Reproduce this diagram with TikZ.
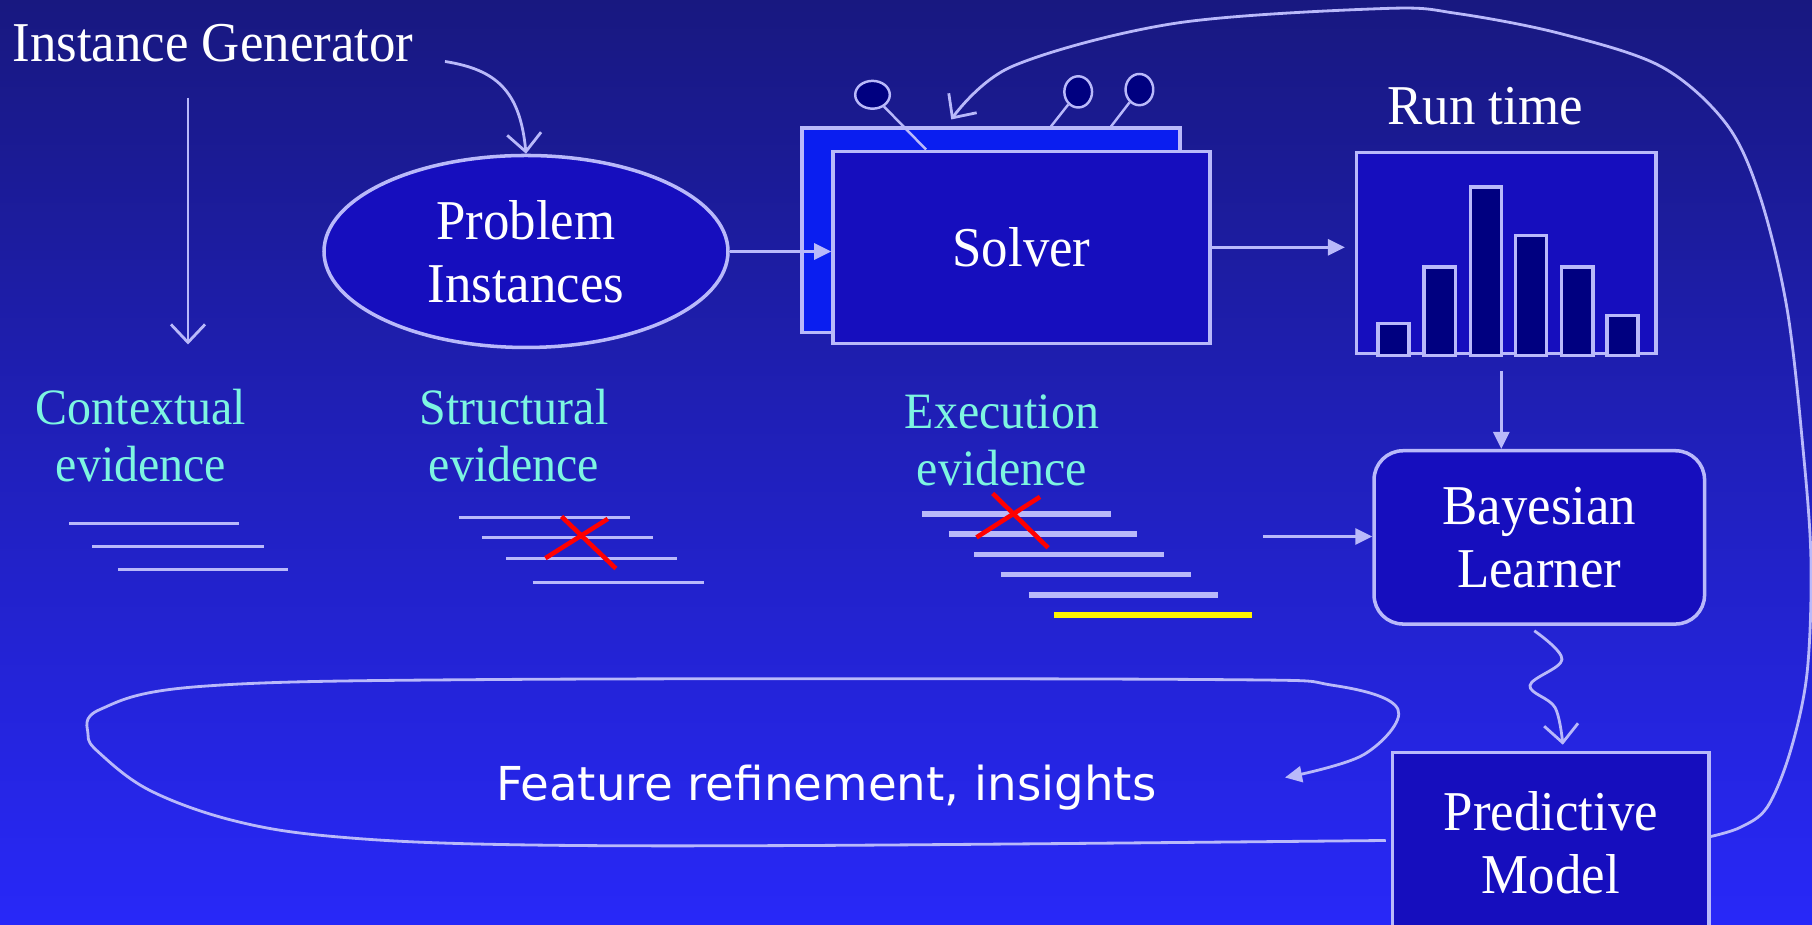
\documentclass[tikz,border=0pt]{standalone}
\usepackage{fontspec}
\setmainfont[FakeStretch=0.94]{Liberation Serif}
\newfontfamily\semserifa{DejaVu Sans}
\usetikzlibrary{shapes.geometric,arrows.meta}

\definecolor{corFundoTopo}{RGB}{24,24,128}
\definecolor{corFundoBase}{RGB}{40,40,248}
\definecolor{corLinha}{RGB}{185,185,250}
\definecolor{corCaixa}{RGB}{22,14,190}
\definecolor{corCaixaClara}{RGB}{10,30,240}
\definecolor{corBarra}{RGB}{0,0,128}
\definecolor{corCiano}{RGB}{125,245,225}

\newcommand{\textogrande}{\fontsize{16}{18}\selectfont}
\newcommand{\textoevid}{\fontsize{14.5}{16.4}\selectfont}

\begin{document}
\begin{tikzpicture}[
	caixa/.style={draw=corLinha, line width=1pt, fill=corCaixa, text=white, align=center, inner sep=0pt, font=\textogrande},
	barra/.style={draw=corLinha, line width=1pt, fill=corBarra},
	pino/.style={draw=corLinha, line width=0.7pt, fill=corBarra, ellipse, inner sep=0pt},
	evid/.style={text=corCiano, align=center, font=\textoevid},
	seta/.style={draw=corLinha, line width=0.8pt, -{Triangle[length=1.7mm,width=1.6mm]}},
	setaaberta/.style={draw=corLinha, line width=0.8pt, -{Straight Barb[length=1.8mm,width=3.4mm]}},
	traco/.style={draw=corLinha, line width=0.9pt},
	tracogrosso/.style={draw=corLinha, line width=1.6pt},
	cruz/.style={draw=red, line width=1.3pt}
	]
	
		% Fundo
		
		\useasboundingbox (0., 0.) rectangle (18.12, 9.245);
		
		\clip (0., 0.) rectangle (18.12, 9.245);
		
		\shade[top color=corFundoTopo, bottom color=corFundoBase] (0., 0.) rectangle (18.12, 9.245);
		
		% Gerador e instancias
		
		\draw node[text=white, anchor=base west, inner sep=0pt, font=\textogrande] (ger) at (0.12, 8.63) {Instance Generator} ;
		
		\draw node[caixa, ellipse, minimum width=4.04cm, minimum height=1.92cm] (inst) at (5.26, 6.73) {Problem\\Instances} ;
		
		\coordinate (gerseta) at (4.45, 8.63);
		
		\draw[setaaberta] (gerseta) .. controls (4.95, 8.55) and (5.20, 8.35) .. (inst.north);
		
		\draw[setaaberta] ([yshift=-0.35cm]ger.south west -| 1.88, 0.) -- (1.88, 5.8);
		
		% Solver
		
		\draw node[caixa, fill=corCaixaClara, minimum width=3.78cm, minimum height=2.045cm] (solverbg) at (9.91, 6.94) {} ;
		
		\draw node[caixa, minimum width=3.77cm, minimum height=1.92cm] (solver) at (10.215, 6.772) {Solver} ;
		
		\draw node[pino, minimum width=0.346cm, minimum height=0.278cm] (p1) at (8.725, 8.297) {} ;
		
		\draw node[pino, minimum width=0.277cm, minimum height=0.312cm] (p2) at (10.782, 8.326) {} ;
		
		\draw node[pino, minimum width=0.277cm, minimum height=0.312cm] (p3) at (11.394, 8.349) {} ;
		
		\draw[traco, line width=0.7pt] (p1) -- ([xshift=0.948cm]solver.north west);
		
		\draw[traco, line width=0.7pt] (p2) -- ([xshift=2.507cm]solverbg.north west);
		
		\draw[traco, line width=0.7pt] (p3) -- ([xshift=3.108cm]solverbg.north west);
		
		\draw[seta] (inst.east) -- (inst.east -| solver.west);
		
		% Tempo de execucao
		
		\draw node[text=white, font=\textogrande] (rt) at (14.85, 8.18) {Run time} ;
		
		\draw node[caixa, minimum width=2.993cm, minimum height=2.01cm] (hist) at (15.063, 6.714) {} ;
		
		\draw[barra] ([xshift=0.231cm]hist.south west) rectangle ++(0.312, 0.32);
		
		\draw[barra] ([xshift=0.693cm]hist.south west) rectangle ++(0.312, 0.885);
		
		\draw[barra] ([xshift=1.155cm]hist.south west) rectangle ++(0.312, 1.683);
		
		\draw[barra] ([xshift=1.606cm]hist.south west) rectangle ++(0.312, 1.197);
		
		\draw[barra] ([xshift=2.068cm]hist.south west) rectangle ++(0.312, 0.885);
		
		\draw[barra] ([xshift=2.519cm]hist.south west) rectangle ++(0.312, 0.40);
		
		\draw[seta, shorten >=0.1cm] (solver.east) -- (solver.east -| hist.west);
		
		% Aprendizado
		
		\draw node[caixa, rounded corners=0.29cm, minimum width=3.305cm, minimum height=1.733cm] (bayes) at (15.393, 3.871) {Bayesian\\Learner} ;
		
		\draw node[caixa, minimum width=3.166cm, minimum height=1.8cm] (pred) at (15.508, 0.82) {Predictive\\Model} ;
		
		\draw[seta, shorten <=0.16cm] ([xshift=-0.05cm]hist.south) -- ([xshift=-0.05cm]hist.south |- bayes.north);
		
		\coordinate (ev) at (12.63, 3.88);
		
		\draw[seta] (ev) -- (ev -| bayes.west);
		
		\draw[setaaberta] plot[smooth, tension=0.6] coordinates {([xshift=-0.05cm, yshift=-0.05cm]bayes.south) (15.62, 2.65) (15.30, 2.39) (15.55, 2.17) ([xshift=0.12cm, yshift=0.06cm]pred.north)};
		
		\draw[setaaberta] plot[smooth, tension=0.55] coordinates {([yshift=0.06cm]pred.east) (17.40, 0.97) (17.67, 1.17) (17.90, 1.72) (18.07, 2.51) (18.11, 3.63) (18.03, 4.76) (17.87, 6.16) (17.60, 7.28) (17.26, 8.01) (16.61, 8.58) (15.60, 8.91) (14.57, 9.11) (13.85, 9.16) (11.74, 9.01) (10.12, 8.58) ([xshift=1.51cm, yshift=0.07cm]solverbg.north west)};
		
		% Evidencias
		
		\draw node[evid] (ctx) at (1.41, 4.89) {Contextual\\evidence} ;
		
		\draw node[evid] (est) at (5.14, 4.89) {Structural\\evidence} ;
		
		\draw node[evid] (exe) at (10.02, 4.84) {Execution\\evidence} ;
		
		\draw[traco] (0.693, 4.010) -- (2.392, 4.010);
		
		\draw[traco] (0.924, 3.779) -- (2.635, 3.779);
		
		\draw[traco] (1.179, 3.548) -- (2.877, 3.548);
		
		\draw[traco] (4.588, 4.068) -- (6.298, 4.068);
		
		\draw[traco] (4.819, 3.871) -- (6.529, 3.871);
		
		\draw[traco] (5.062, 3.663) -- (6.772, 3.663);
		
		\draw[traco] (5.327, 3.421) -- (7.038, 3.421);
		
		\draw[cruz] (5.616, 4.079) -- (6.159, 3.559);
		
		\draw[cruz] (5.454, 3.663) -- (6.078, 4.056);
		
		\draw[tracogrosso] (9.222, 4.102) -- (11.105, 4.102);
		
		\draw[tracogrosso] (9.487, 3.906) -- (11.371, 3.906);
		
		\draw[tracogrosso] (9.742, 3.698) -- (11.637, 3.698);
		
		\draw[tracogrosso] (10.007, 3.501) -- (11.914, 3.501);
		
		\draw[tracogrosso] (10.285, 3.293) -- (12.180, 3.293);
		
		\draw[tracogrosso, draw=yellow] (10.539, 3.097) -- (12.515, 3.097);
		
		\draw[cruz] (9.927, 4.310) -- (10.481, 3.767);
		
		\draw[cruz] (9.765, 3.871) -- (10.400, 4.276);
		
		% Refinamento
		
		\draw node[text=white, font=\semserifa\fontsize{13.3}{16}\selectfont] (ref) at (8.263, 1.364) {Feature refinement, insights} ;
		
		\draw[seta] plot[smooth, tension=0.6] coordinates {([xshift=-0.05cm, yshift=0.02cm]pred.west) (8.09, 0.79) (5.00, 0.80) (3.33, 0.88) (2.33, 1.04) (1.50, 1.34) (1.00, 1.71) (0.88, 1.90) (1.00, 2.15) (2.00, 2.38) (5.00, 2.45) (12.00, 2.45) (13.34, 2.39) (13.98, 2.15) (13.64, 1.70) (12.85, 1.47)};
		
	\end{tikzpicture}
\end{document}
